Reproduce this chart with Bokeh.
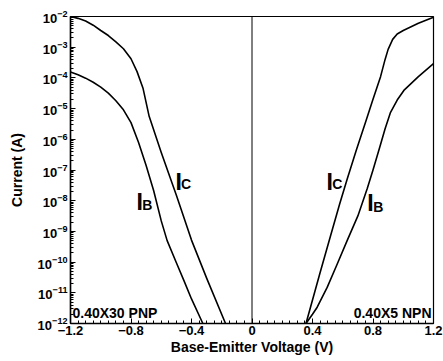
from bokeh.plotting import figure
from bokeh.models import Range1d, FixedTicker, Span, LogTickFormatter
from bokeh.core.properties import value
from bokeh.embed import file_html
from bokeh.resources import INLINE

# --- data ---
pnp_ic_v = [-1.2, -1.15, -1.1, -1.05, -1.0, -0.95, -0.9, -0.85, -0.8, -0.76, -0.72, -0.68,
            -0.6, -0.5, -0.4, -0.3, -0.175]
pnp_ic_a = [1.0e-2, 8.7e-3, 7.1e-3, 5.2e-3, 3.5e-3, 2.4e-3, 1.5e-3, 8.9e-4, 4.2e-4, 1.6e-4,
            4.5e-5, 5.6e-6, 3.7e-7, 1.5e-8, 5.2e-10, 3.0e-11, 1.0e-12]

pnp_ib_v = [-1.2, -1.15, -1.1, -1.05, -1.0, -0.95, -0.9, -0.85, -0.8, -0.75, -0.7, -0.65,
            -0.6, -0.561, -0.5, -0.45, -0.4, -0.325]
pnp_ib_a = [1.55e-4, 1.26e-4, 9.8e-5, 7.2e-5, 5.0e-5, 3.2e-5, 1.8e-5, 9.1e-6, 3.5e-6, 7.9e-7,
            1.4e-7, 2.1e-8, 2.2e-9, 5.0e-10, 9.5e-11, 2.5e-11, 6.3e-12, 1.0e-12]

npn_ic_v = [0.357, 0.45, 0.519, 0.58, 0.629, 0.69, 0.75, 0.8, 0.85, 0.88, 0.9, 0.93, 0.96,
            1.0, 1.1, 1.2]
npn_ic_a = [1.0e-12, 4.5e-11, 7.1e-10, 7.9e-9, 5.0e-8, 4.5e-7, 3.5e-6, 2.0e-5, 1.1e-4,
            4.0e-4, 8.5e-4, 1.8e-3, 2.7e-3, 3.5e-3, 6.0e-3, 9.5e-3]

npn_ib_v = [0.357, 0.4, 0.431, 0.497, 0.56, 0.629, 0.7, 0.762, 0.8, 0.845, 0.88, 0.916,
            0.96, 1.004, 1.1, 1.2]
npn_ib_a = [1.0e-12, 2.0e-12, 3.4e-12, 1.5e-11, 7.9e-11, 5.0e-10, 3.2e-9, 2.5e-8, 1.0e-7,
            5.6e-7, 2.2e-6, 7.6e-6, 1.9e-5, 3.9e-5, 1.1e-4, 2.9e-4]

x_ticks = [-1.2, -0.8, -0.4, 0.0, 0.4, 0.8, 1.2]
y_ticks = [1e-12, 1e-11, 1e-10, 1e-9, 1e-8, 1e-7, 1e-6, 1e-5, 1e-4, 1e-3, 1e-2]

x_label = "Base-Emitter Voltage (V)"
y_label = "Current (A)"
pnp_name = "0.40X30 PNP"
npn_name = "0.40X5 NPN"

FONT = "Liberation Sans"

p = figure(width=443, height=361, output_backend="svg", toolbar_location=None,
           y_axis_type="log",
           x_range=Range1d(-1.2, 1.2), y_range=Range1d(1e-12, 1e-2),
           min_border_left=70, min_border_right=10, min_border_top=16, min_border_bottom=38)

p.xgrid.visible = False
p.ygrid.visible = False
p.outline_line_color = "black"
p.outline_line_width = 1.2
p.background_fill_color = "white"
p.border_fill_color = "white"

# axes
x_minor = [round(-1.2 + 0.05 * i, 4) for i in range(49)]
y_minor = [m * t for t in y_ticks[:-1] for m in range(2, 10)]
p.xaxis.ticker = FixedTicker(ticks=x_ticks, minor_ticks=x_minor)
p.yaxis.ticker = FixedTicker(ticks=y_ticks, minor_ticks=y_minor)
p.yaxis.formatter = LogTickFormatter()
for ax in (p.xaxis[0], p.yaxis[0]):
    ax.axis_line_color = "black"
    ax.axis_line_width = 1.5
    ax.major_tick_in = 5
    ax.major_tick_out = 0
    ax.minor_tick_in = 3
    ax.minor_tick_out = 0
    ax.major_tick_line_color = "black"
    ax.minor_tick_line_color = "black"
    ax.major_label_text_font = FONT
    ax.major_label_text_font_style = "bold"
    ax.major_label_text_font_size = "13px"
    ax.major_label_text_color = "black"
    ax.axis_label_text_font = FONT
    ax.axis_label_text_font_style = "bold"
    ax.axis_label_text_font_size = "14px"
    ax.axis_label_text_color = "black"

p.xaxis.axis_label = x_label
p.yaxis.axis_label = y_label
p.xaxis.major_label_standoff = 2
p.xaxis.axis_label_standoff = 1
p.yaxis.major_label_standoff = 3
p.yaxis.axis_label_standoff = 10

# vertical line at 0 V
p.add_layout(Span(location=0, dimension="height", line_color="black", line_width=1))

# curves
for xs, ys in ((pnp_ic_v, pnp_ic_a), (pnp_ib_v, pnp_ib_a), (npn_ic_v, npn_ic_a), (npn_ib_v, npn_ib_a)):
    p.line(xs, ys, line_color="black", line_width=1.6, line_join="round")

# curve labels: big "I" with subscript
big = dict(text_font=value(FONT), text_font_style="bold", text_font_size="23px",
           text_color="black", text_align="left", text_baseline="alphabetic")
sub = dict(text_font=value(FONT), text_font_style="bold", text_font_size="14px",
           text_color="black", text_align="left", text_baseline="alphabetic")

p.text(x=[-0.506, 0.493], y=[10**-7.38, 10**-7.38], text=["I", "I"], **big)
p.text(x=[-0.469, 0.530], y=[10**-7.44, 10**-7.44], text=["C", "C"], **sub)
p.text(x=[-0.764, 0.762], y=[10**-8.03, 10**-8.09], text=["I", "I"], **big)
p.text(x=[-0.726, 0.801], y=[10**-8.14, 10**-8.20], text=["B", "B"], **sub)

# device names
p.text(x=[-1.2], y=[1e-12], text=[pnp_name], x_offset=2, y_offset=-3,
       text_font=value(FONT), text_font_style="bold", text_font_size="14px",
       text_color="black", text_align="left", text_baseline="bottom")
p.text(x=[1.2], y=[1e-12], text=[npn_name], x_offset=-2, y_offset=-3,
       text_font=value(FONT), text_font_style="bold", text_font_size="14px",
       text_color="black", text_align="right", text_baseline="bottom")

open("out.html", "w").write(file_html(p, INLINE))
